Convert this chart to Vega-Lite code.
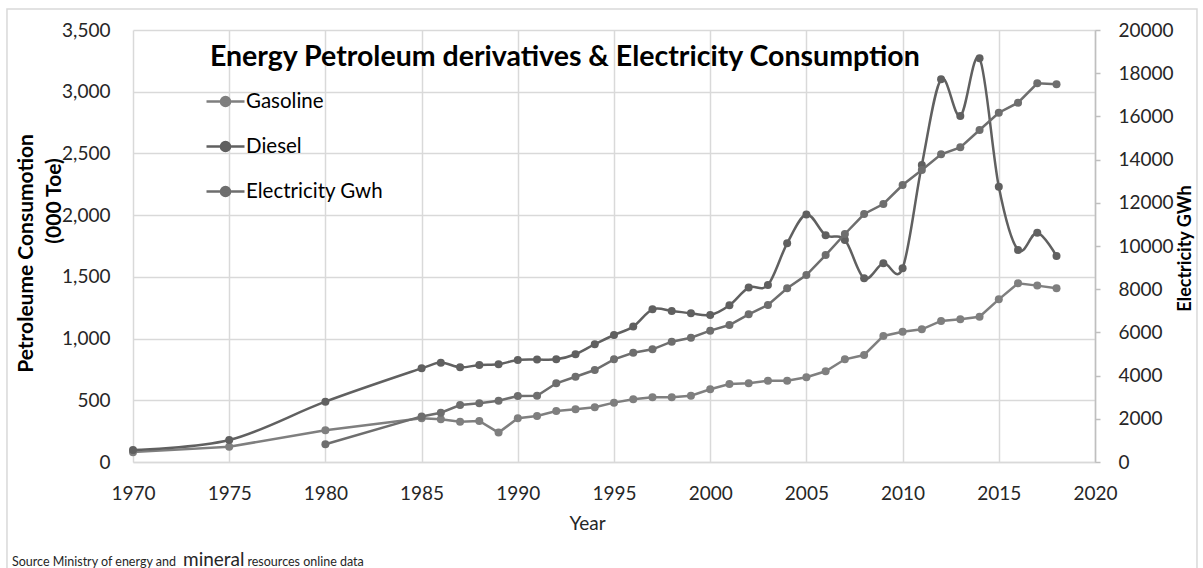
{
  "$schema": "https://vega.github.io/schema/vega-lite/v6.json",
  "width": 962,
  "height": 432,
  "autosize": {"type": "none"},
  "padding": {"left": 133, "top": 30, "right": 108, "bottom": 106},
  "background": "white",
  "config": {"view": {"stroke": null}, "font": "Lato"},
  "datasets": {
    "energy": [
      {"Year": 1970, "Gasoline": 80, "Diesel": 98, "Electricity": null},
      {"Year": 1975, "Gasoline": 124, "Diesel": 178, "Electricity": null},
      {"Year": 1980, "Gasoline": 257, "Diesel": 489, "Electricity": 819},
      {"Year": 1985, "Gasoline": 354, "Diesel": 759, "Electricity": 2110},
      {"Year": 1986, "Gasoline": 346, "Diesel": 805, "Electricity": 2282},
      {"Year": 1987, "Gasoline": 327, "Diesel": 767, "Electricity": 2639},
      {"Year": 1988, "Gasoline": 332, "Diesel": 786, "Electricity": 2717},
      {"Year": 1989, "Gasoline": 238, "Diesel": 792, "Electricity": 2838},
      {"Year": 1990, "Gasoline": 354, "Diesel": 826, "Electricity": 3056},
      {"Year": 1991, "Gasoline": 373, "Diesel": 830, "Electricity": 3065},
      {"Year": 1992, "Gasoline": 413, "Diesel": 832, "Electricity": 3643},
      {"Year": 1993, "Gasoline": 427, "Diesel": 873, "Electricity": 3949},
      {"Year": 1994, "Gasoline": 443, "Diesel": 954, "Electricity": 4259},
      {"Year": 1995, "Gasoline": 481, "Diesel": 1029, "Electricity": 4755},
      {"Year": 1996, "Gasoline": 508, "Diesel": 1097, "Electricity": 5060},
      {"Year": 1997, "Gasoline": 524, "Diesel": 1237, "Electricity": 5216},
      {"Year": 1998, "Gasoline": 524, "Diesel": 1224, "Electricity": 5571},
      {"Year": 1999, "Gasoline": 537, "Diesel": 1205, "Electricity": 5756},
      {"Year": 2000, "Gasoline": 589, "Diesel": 1191, "Electricity": 6080},
      {"Year": 2001, "Gasoline": 632, "Diesel": 1270, "Electricity": 6343},
      {"Year": 2002, "Gasoline": 638, "Diesel": 1413, "Electricity": 6838},
      {"Year": 2003, "Gasoline": 659, "Diesel": 1434, "Electricity": 7269},
      {"Year": 2004, "Gasoline": 659, "Diesel": 1772, "Electricity": 8040},
      {"Year": 2005, "Gasoline": 687, "Diesel": 2005, "Electricity": 8657},
      {"Year": 2006, "Gasoline": 735, "Diesel": 1837, "Electricity": 9580},
      {"Year": 2007, "Gasoline": 832, "Diesel": 1799, "Electricity": 10556},
      {"Year": 2008, "Gasoline": 867, "Diesel": 1489, "Electricity": 11481},
      {"Year": 2009, "Gasoline": 1021, "Diesel": 1610, "Electricity": 11944},
      {"Year": 2010, "Gasoline": 1056, "Diesel": 1570, "Electricity": 12824},
      {"Year": 2011, "Gasoline": 1075, "Diesel": 2407, "Electricity": 13518},
      {"Year": 2012, "Gasoline": 1143, "Diesel": 3101, "Electricity": 14244},
      {"Year": 2013, "Gasoline": 1156, "Diesel": 2804, "Electricity": 14568},
      {"Year": 2014, "Gasoline": 1177, "Diesel": 3271, "Electricity": 15370},
      {"Year": 2015, "Gasoline": 1318, "Diesel": 2231, "Electricity": 16171},
      {"Year": 2016, "Gasoline": 1448, "Diesel": 1718, "Electricity": 16634},
      {"Year": 2017, "Gasoline": 1429, "Diesel": 1858, "Electricity": 17532},
      {"Year": 2018, "Gasoline": 1407, "Diesel": 1669, "Electricity": 17486}
    ]
  },
  "data": {"name": "energy"},
  "layer": [
    {
      "layer": [
        {
          "mark": {"type": "line", "strokeWidth": 2.5},
          "encoding": {
            "x": {
              "field": "Year",
              "type": "quantitative",
              "scale": {"domain": [1970, 2020], "nice": false, "zero": false},
              "axis": {
                "values": [1970, 1975, 1980, 1985, 1990, 1995, 2000, 2005, 2010, 2015, 2020],
                "labelExpr": "format(datum.value, 'd')",
                "labelFlush": false,
                "grid": true,
                "gridColor": "#d9d9d9",
                "gridWidth": 1.5,
                "domainColor": "#d9d9d9",
                "domainWidth": 1.5,
                "ticks": false,
                "labelFont": "Lato",
                "labelFontSize": 19,
                "labelColor": "#262626",
                "labelPadding": 22,
                "title": "Year",
                "titleFont": "Lato",
                "titleFontSize": 19,
                "titleFontWeight": "normal",
                "titleColor": "#262626",
                "titleX": 454,
                "titleY": 61,
                "titleBaseline": "middle"
              }
            },
            "y": {
              "field": "Gasoline",
              "type": "quantitative",
              "scale": {"domain": [0, 3500], "nice": false},
              "axis": {
                "values": [0, 500, 1000, 1500, 2000, 2500, 3000, 3500],
                "labelExpr": "format(datum.value, ',')",
                "labelFlush": false,
                "grid": true,
                "gridColor": "#d9d9d9",
                "gridWidth": 1.5,
                "domain": false,
                "ticks": false,
                "labelFont": "Lato",
                "labelFontSize": 19,
                "labelColor": "#262626",
                "labelPadding": 23,
                "title": "Petroleume Consumotion",
                "titleFont": "Lato",
                "titleFontSize": 21,
                "titleFontWeight": "bold",
                "titleColor": "#000000",
                "titleAngle": 270,
                "titleX": -107,
                "titleY": 223,
                "titleAlign": "center",
                "titleBaseline": "middle"
              }
            },
            "color": {
              "datum": "Gasoline",
              "type": "nominal",
              "scale": {
                "domain": ["Gasoline", "Diesel", "Electricity Gwh"],
                "range": ["#7f7f7f", "#606060", "#6e6e6e"]
              },
              "legend": {
                "orient": "none",
                "legendX": 72,
                "legendY": 51,
                "title": null,
                "padding": 0,
                "symbolType": "M-1,0L1,0M0.24,0A0.24,0.24,0,1,1,-0.24,0A0.24,0.24,0,1,1,0.24,0Z",
                "symbolSize": 1444,
                "symbolStrokeWidth": 2.5,
                "labelFont": "Lato",
                "labelFontSize": 20.5,
                "labelColor": "#000000",
                "labelOffset": 0,
                "rowPadding": 14,
                "encode": {
                  "symbols": {
                    "update": {
                      "fill": {"scale": "color", "field": "value"},
                      "stroke": {"scale": "color", "field": "value"},
                      "opacity": {"value": 1},
                      "strokeWidth": {"value": 2.5}
                    }
                  }
                }
              }
            }
          }
        },
        {
          "mark": {"type": "circle", "size": 64, "opacity": 1},
          "encoding": {
            "x": {"field": "Year", "type": "quantitative"},
            "y": {"field": "Gasoline", "type": "quantitative"},
            "color": {"datum": "Gasoline", "type": "nominal"}
          }
        },
        {
          "mark": {"type": "line", "strokeWidth": 2.5, "interpolate": "cardinal"},
          "encoding": {
            "x": {"field": "Year", "type": "quantitative"},
            "y": {"field": "Diesel", "type": "quantitative"},
            "color": {"datum": "Diesel", "type": "nominal"}
          }
        },
        {
          "mark": {"type": "circle", "size": 64, "opacity": 1},
          "encoding": {
            "x": {"field": "Year", "type": "quantitative"},
            "y": {"field": "Diesel", "type": "quantitative"},
            "color": {"datum": "Diesel", "type": "nominal"}
          }
        },
        {
          "data": {"values": [{}]},
          "mark": {"type": "rect", "filled": false, "stroke": "#d9d9d9", "strokeWidth": 1.5},
          "encoding": {
            "x": {"datum": 1963.45, "type": "quantitative"},
            "x2": {"datum": 2025.3},
            "y": {"datum": 3671, "type": "quantitative"},
            "y2": {"datum": -1500}
          }
        },
        {
          "data": {"values": [{}]},
          "mark": {"type": "text", "text": "(000 Toe)", "font": "Lato", "fontSize": 21, "fontWeight": "bold", "color": "#000000", "angle": 270, "align": "center", "baseline": "middle"},
          "encoding": {
            "x": {"datum": 1965.95, "type": "quantitative"},
            "y": {"datum": 2115, "type": "quantitative"}
          }
        },
        {
          "data": {"values": [{}]},
          "mark": {"type": "text", "text": "Energy Petroleum derivatives & Electricity Consumption", "font": "Lato", "fontSize": 28.5, "fontWeight": "bold", "color": "#000000", "align": "left", "baseline": "alphabetic"},
          "encoding": {
            "x": {"datum": 1974.0, "type": "quantitative"},
            "y": {"datum": 3205, "type": "quantitative"}
          }
        },
        {
          "data": {"values": [{}]},
          "mark": {"type": "text", "text": "Source Ministry of energy and", "font": "Lato", "fontSize": 12.5, "color": "#262626", "align": "left", "baseline": "alphabetic"},
          "encoding": {
            "x": {"datum": 1963.71, "type": "quantitative"},
            "y": {"datum": -843, "type": "quantitative"}
          }
        },
        {
          "data": {"values": [{}]},
          "mark": {"type": "text", "text": "mineral", "font": "Lato", "fontSize": 19, "color": "#262626", "align": "left", "baseline": "alphabetic"},
          "encoding": {
            "x": {"datum": 1972.6, "type": "quantitative"},
            "y": {"datum": -843, "type": "quantitative"}
          }
        },
        {
          "data": {"values": [{}]},
          "mark": {"type": "text", "text": "resources online data", "font": "Lato", "fontSize": 12.5, "color": "#262626", "align": "left", "baseline": "alphabetic"},
          "encoding": {
            "x": {"datum": 1975.95, "type": "quantitative"},
            "y": {"datum": -843, "type": "quantitative"}
          }
        }
      ]
    },
    {
      "layer": [
        {
          "mark": {"type": "line", "strokeWidth": 2.5},
          "encoding": {
            "x": {"field": "Year", "type": "quantitative"},
            "y": {
              "field": "Electricity",
              "type": "quantitative",
              "scale": {"domain": [0, 20000], "nice": false},
              "axis": {
                "orient": "right",
                "values": [0, 2000, 4000, 6000, 8000, 10000, 12000, 14000, 16000, 18000, 20000],
                "labelExpr": "format(datum.value, 'd')",
                "labelFlush": false,
                "grid": false,
                "domainColor": "#bfbfbf",
                "domainWidth": 1.5,
                "ticks": true,
                "tickColor": "#bfbfbf",
                "tickWidth": 1.5,
                "tickSize": 5,
                "labelFont": "Lato",
                "labelFontSize": 19,
                "labelColor": "#262626",
                "labelPadding": 18,
                "title": "Electricity GWh",
                "titleFont": "Lato",
                "titleFontSize": 18,
                "titleFontWeight": "bold",
                "titleColor": "#000000",
                "titleAngle": 270,
                "titleX": 90,
                "titleY": 218,
                "titleAlign": "center",
                "titleBaseline": "middle"
              }
            },
            "color": {"datum": "Electricity Gwh", "type": "nominal"}
          }
        },
        {
          "mark": {"type": "circle", "size": 64, "opacity": 1},
          "encoding": {
            "x": {"field": "Year", "type": "quantitative"},
            "y": {"field": "Electricity", "type": "quantitative"},
            "color": {"datum": "Electricity Gwh", "type": "nominal"}
          }
        }
      ]
    }
  ],
  "resolve": {"scale": {"y": "independent"}, "axis": {"y": "independent"}}
}
